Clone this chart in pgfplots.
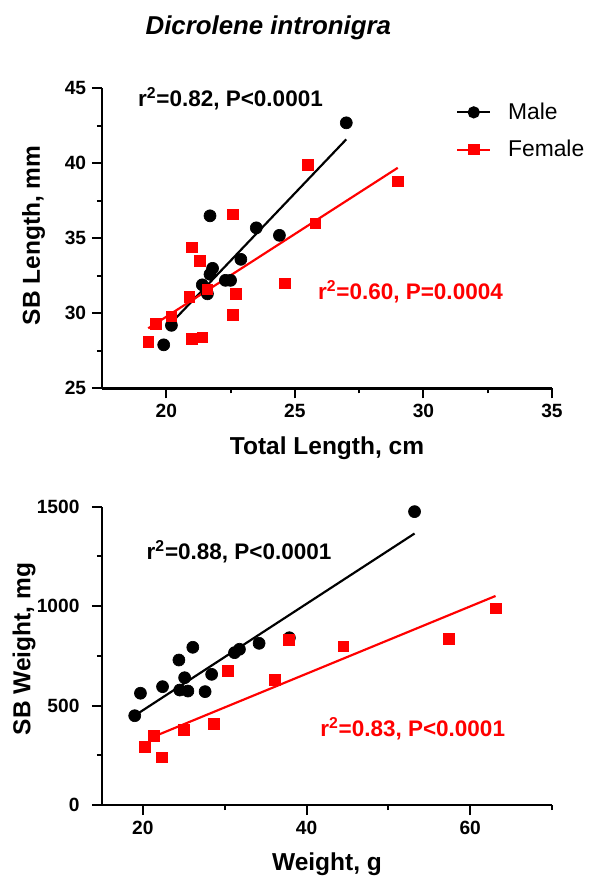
\documentclass[border=0pt]{standalone}
\usepackage{pgfplots}
\pgfplotsset{compat=1.18}
\usepackage{pgfplotstable}
\usepackage{fontspec}
\setmainfont{Liberation Sans}

\definecolor{gpred}{RGB}{255,0,0}

% swim bladder length vs total length
\pgfplotstableread{
x y
27.0 42.7
21.7 36.5
23.5 35.7
24.4 35.2
22.9 33.6
21.8 33.0
21.7 32.6
21.4 31.9
22.3 32.2
22.5 32.2
21.6 31.3
20.2 29.2
19.9 27.9
}\lenmale
\pgfplotstableread{
x y
19.3 28.1
19.6 29.3
20.2 29.8
20.9 31.1
21.0 34.4
21.3 33.5
21.0 28.3
21.4 28.4
21.6 31.6
22.6 36.6
22.7 31.3
22.6 29.9
24.6 32.0
25.5 39.9
25.8 36.0
29.0 38.8
}\lenfemale

% swim bladder weight vs body weight
\pgfplotstableread{
x y
19.0 449
19.7 562
22.4 595
24.4 729
26.1 793
25.1 640
24.5 578
25.5 573
28.4 657
27.6 570
31.2 766
31.8 783
34.2 813
37.9 841
53.2 1475
}\wtmale
\pgfplotstableread{
x y
20.2 293
21.3 347
22.3 240
25.0 377
28.7 407
30.4 675
36.1 630
37.8 832
44.5 798
57.4 835
63.1 989
}\wtfemale

\tikzset{note/.style={font=\bfseries\fontsize{13.5}{16}\selectfont, anchor=base west, inner sep=0pt}}

\begin{document}
\begin{tikzpicture}
\pgfplotsset{
  every axis/.append style={
    scale only axis, width=270pt,
    axis lines*=left,
    axis line style={line width=1.4pt, -},
    tick align=outside,
    tick style={line width=1.2pt, black},
    major tick length=6pt, minor tick length=3pt,
    /pgf/number format/assume math mode=true,
    /pgf/number format/1000 sep={},
    ticklabel style={font=\bfseries\fontsize{11.5}{13}\selectfont},
    label style={font=\bfseries\fontsize{14.7}{17}\selectfont},
    clip=false,
  },
  male/.style={only marks, mark=*, mark size=3.6pt, black},
  female/.style={only marks, mark=square*, mark size=3.2pt, gpred},
  fit/.style={line width=1.3pt, no marks},
}

\begin{axis}[
  at={(0pt,0pt)}, anchor=south west,
  height=180pt,
  xmin=17.5, xmax=35, ymin=25, ymax=45,
  xtick={20,25,30,35}, minor xtick={22.5,27.5,32.5},
  ytick={25,30,35,40,45}, minor ytick={27.5,32.5,37.5,42.5},
  xlabel={Total Length, cm},
  ylabel={SB Length, mm},
  x label style={at={(axis description cs:0.5,-0.219)}, anchor=base},
  y label style={at={(axis description cs:-0.152,0.51)}, anchor=center},
  legend style={at={(axis description cs:0.775,0.975)}, anchor=north west,
    draw=none, fill=none, font=\fontsize{13.7}{16}\selectfont,
    row sep=7pt, /tikz/every odd column/.append style={column sep=8pt}},
  legend cell align=left,
  legend image code/.code={\draw[mark repeat=2,mark phase=2,#1]
    plot coordinates {(0cm,0cm) (0.35cm,0cm) (0.7cm,0cm)};},
]
\addlegendimage{black, line width=1.3pt, mark=*, mark size=3pt}
\addlegendentry{Male}
\addlegendimage{gpred, line width=1.3pt, mark=square*, mark size=2.8pt}
\addlegendentry{Female}
\addplot[male, forget plot] table {\lenmale};
\addplot[female, forget plot] table {\lenfemale};
\addplot[fit, black, forget plot] coordinates {(20.05,29.1) (27.0,41.6)};
\addplot[fit, gpred, forget plot] coordinates {(19.3,29.0) (29.0,39.7)};
\node[note] at (axis cs:18.89,43.77) {r\textsuperscript{2}=0.82, P<0.0001};
\node[note, gpred] at (axis cs:25.89,30.89) {r\textsuperscript{2}=0.60, P=0.0004};
\end{axis}

\begin{axis}[
  at={(0pt,-250pt)}, anchor=south west,
  height=179pt,
  xmin=15, xmax=70, ymin=0, ymax=1500,
  xtick={20,40,60}, minor xtick={30,50,70},
  ytick={0,500,1000,1500}, minor ytick={250,750,1250},
  yticklabel style={xshift=-4pt},
  xlabel={Weight, g},
  ylabel={SB Weight, mg},
  x label style={at={(axis description cs:0.5,-0.22)}, anchor=base},
  y label style={at={(axis description cs:-0.173,0.523)}, anchor=center},
]
\addplot[male] table {\wtmale};
\addplot[female] table {\wtfemale};
\addplot[fit, black] coordinates {(19.2,455) (53.2,1365)};
\addplot[fit, gpred] coordinates {(20.8,335) (63.1,1051)};
\node[note] at (axis cs:20.42,1232) {r\textsuperscript{2}=0.88, P<0.0001};
\node[note, gpred] at (axis cs:41.64,343) {r\textsuperscript{2}=0.83, P<0.0001};
\end{axis}

\node[font=\bfseries\itshape\fontsize{15.5}{18}\selectfont, anchor=base]
  at (99.8pt,212pt) {Dicrolene intronigra};

\pgfresetboundingbox
\useasboundingbox (-61.2pt,-294.4pt) rectangle (292.2pt,233pt);
\end{tikzpicture}
\end{document}
